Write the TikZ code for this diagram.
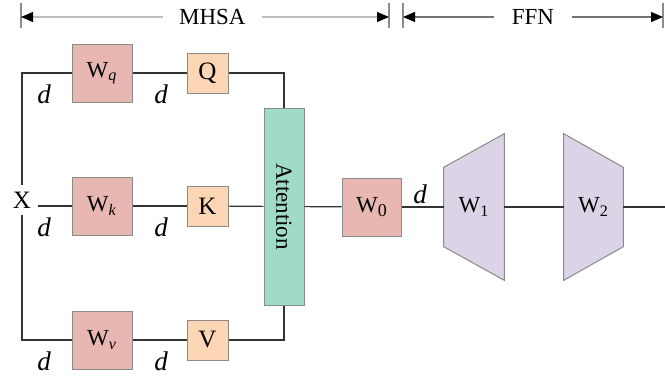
\documentclass[tikz,border=0pt]{standalone}
\usepackage{fontspec}
\setmainfont{Liberation Serif}
\usepackage{graphicx}
\usepackage{tikz}
\usetikzlibrary{arrows.meta, calc, backgrounds}
\definecolor{wpink}{HTML}{E8B7B2}
\definecolor{qkvpeach}{HTML}{FCD5B4}
\definecolor{attmint}{HTML}{A0DAC8}
\definecolor{ffnlav}{HTML}{DCD4E6}
\definecolor{edgegray}{HTML}{8A8A8A}

\begin{document}
\begin{tikzpicture}[x=0.5pt, y=-0.5pt,
  font=\fontsize{11.5}{13}\selectfont,
  box/.style={draw=edgegray, line width=0.5pt, inner sep=0pt},
  wbox/.style={box, fill=wpink, minimum width=30pt, minimum height=29pt},
  qkvbox/.style={box, fill=qkvpeach, minimum width=20.5pt, minimum height=20pt,
    font=\fontsize{12.5}{14}\selectfont},
  attbox/.style={box, fill=attmint, minimum width=20pt, minimum height=98.5pt},
  ffnbox/.style={inner sep=0pt, minimum width=30pt, minimum height=73pt},
  trap/.style={fill=ffnlav, draw=edgegray, line width=0.5pt},
  wire/.style={draw=black!80, line width=0.6pt},
  dlab/.style={font=\fontsize{13.5}{15}\selectfont\itshape},
  dimline/.style={line width=0.6pt,
    arrows={Triangle[length=6pt,width=5pt,color=black]-Triangle[length=6pt,width=5pt,color=black]}},
  tickmark/.style={draw=black!45, line width=0.6pt}]
\useasboundingbox (0,0) rectangle (665,380);

% Section spans on top
\coordinate (m0) at (21,17);
\coordinate (m1) at (389,17);
\coordinate (f0) at (403,17);
\coordinate (f1) at (663,17);
\foreach \c in {m0,m1,f0,f1}
  \draw[tickmark] ($(\c)+(0,-14)$) -- ($(\c)+(0,11)$);
\draw[dimline, draw=black!25] (m0) -- node[pos=0.52, fill=white, inner xsep=8pt] (mhsa) {MHSA} (m1);
\draw[dimline, draw=black!55] (f0) -- node[pos=0.5, fill=white, inner xsep=9pt] (ffn) {FFN} (f1);

% Q/K/V branches
\node[font=\fontsize{12.5}{14}\selectfont] (x) at (22,200) {X};
\foreach \n/\y/\t in {q/73/Q, k/206/K, v/340/V}{
  \node[wbox] (w\n) at (102,\y) {W\textsubscript{\textit{\n}}};
  \node[qkvbox] (\n) at (207.5,\y) {\t};
  \node[dlab] (da\n) at (44,\y+21) {d};
  \node[dlab] (db\n) at (161,\y+21) {d};
}
\node[attbox] (att) at (284,206.5) {\rotatebox{-90}{Attention}};

% Output projection and FFN
\node[wbox, minimum width=29.5pt] (w0) at (371.5,207) {W{\small\raisebox{-2pt}{0}}};
\node[dlab] (dw) at (420,194) {d};
\node[ffnbox] (w1) at (474,207) {W\textsubscript{1}};
\node[ffnbox, minimum width=29.5pt] (w2) at (593.5,207) {W\textsubscript{2}};
\coordinate (out) at (665,207);
\begin{scope}[on background layer]
  \filldraw[trap] (w1.north east) -- (w1.south east)
    -- ($(w1.south west)!0.23!(w1.north west)$) -- ($(w1.south west)!0.77!(w1.north west)$) -- cycle;
  \filldraw[trap] (w2.north west) -- (w2.south west)
    -- ($(w2.south east)!0.23!(w2.north east)$) -- ($(w2.south east)!0.77!(w2.north east)$) -- cycle;
\end{scope}

% Wires
\draw[wire] (x.north) |- (wq.west);
\draw[wire] (x.east |- wk.west) -- (wk.west);
\draw[wire] (x.south) |- (wv.west);
\foreach \n in {q,k,v}
  \draw[wire] (w\n) -- (\n);
\draw[wire] (q.east) -| (att.north);
\draw[wire] (k) -- (att);
\draw[wire] (v.east) -| (att.south);
\draw[wire] (att) -- (w0);
\draw[wire] (w0) -- (w1);
\draw[wire] (w1) -- (w2);
\draw[wire] (w2) -- (out);
\end{tikzpicture}
\end{document}
